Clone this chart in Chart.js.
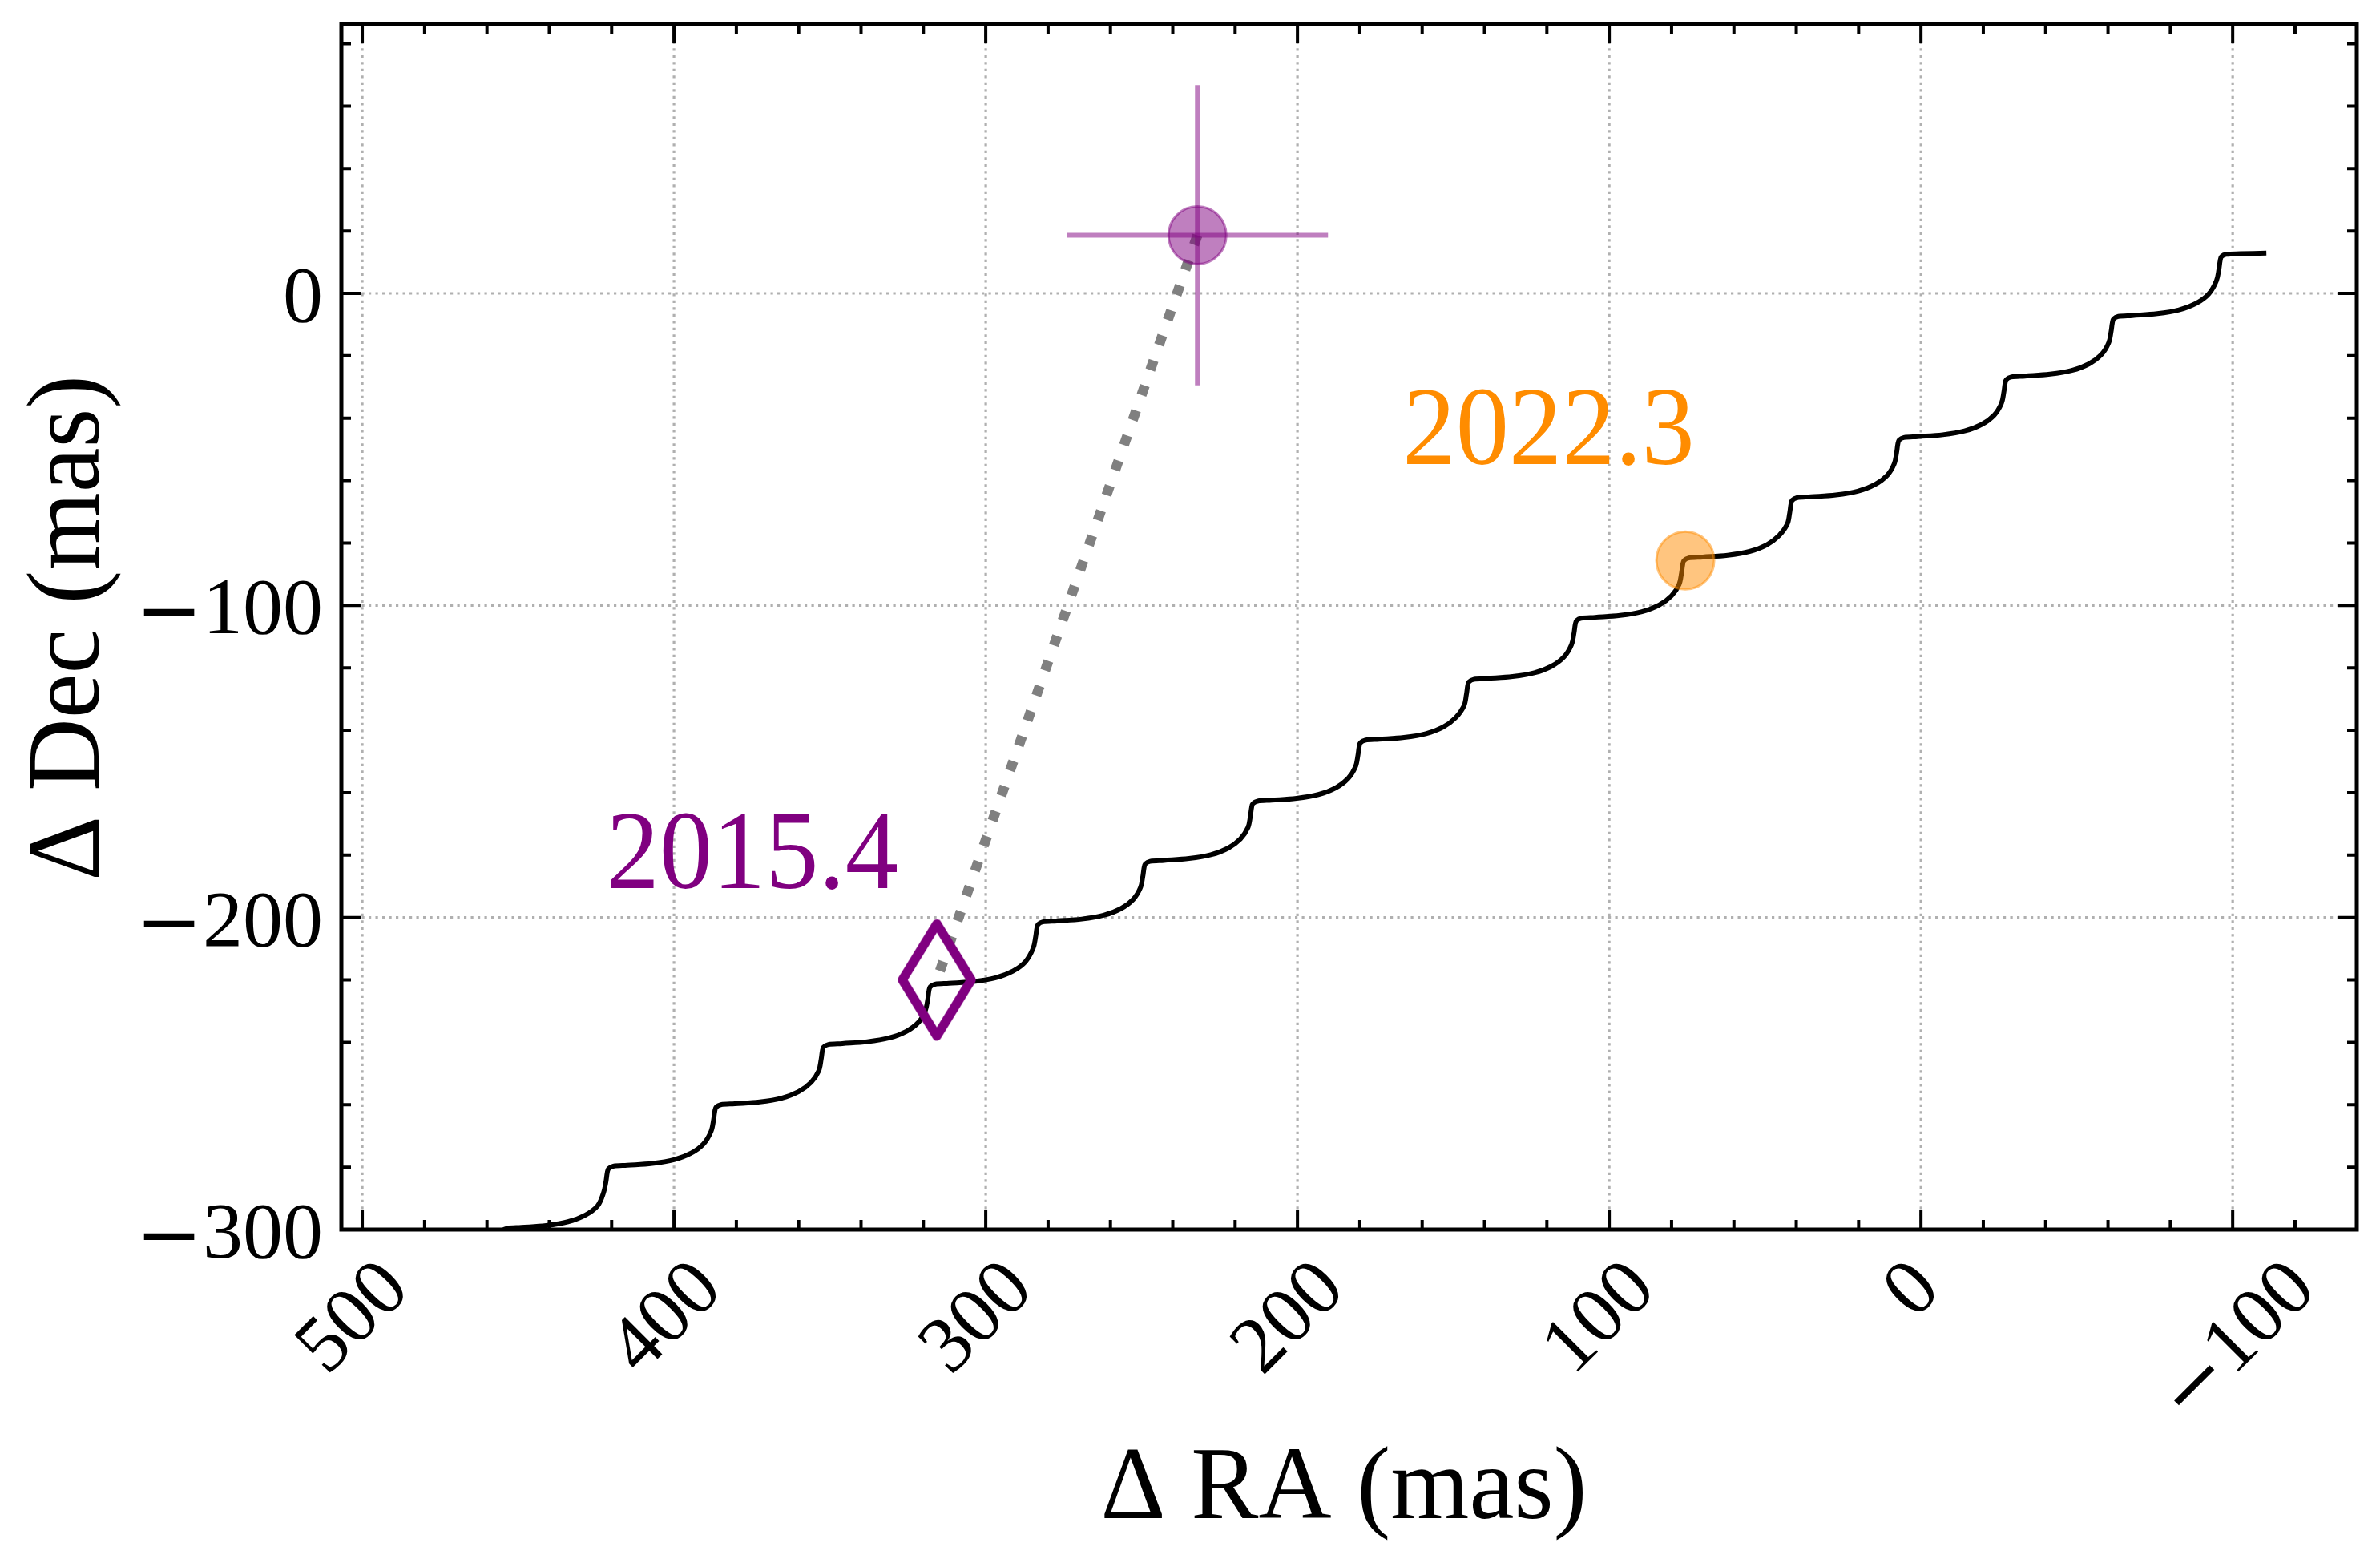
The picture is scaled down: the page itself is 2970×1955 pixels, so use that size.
<!DOCTYPE html>
<html>
<head>
<meta charset="utf-8">
<script src="https://cdn.jsdelivr.net/npm/chart.js@4.4.1/dist/chart.umd.min.js"></script>
<style>
html,body{margin:0;padding:0;background:#fff;overflow:hidden}
#wrap{width:2970px;height:1955px;position:relative}
canvas{display:block}
</style>
</head>
<body>
<div id="wrap"><canvas id="c" width="2970" height="1955"></canvas></div>
<script>
// ---------------- data ----------------
const trackRA = [
455.8,455.4,455.0,453.5,449.0,441.0,434.0,428.5,424.5,422.6,421.8,421.4,
421.0,419.5,415.0,407.0,400.0,394.5,390.5,388.1,387.3,386.9,
386.5,385.0,380.5,372.5,365.5,360.0,356.0,353.6,352.8,352.4,
352.0,350.5,346.0,338.0,331.0,325.5,321.5,319.4,318.6,318.2,
317.8,316.3,311.8,303.8,296.8,291.3,287.3,284.8,284.0,283.6,
283.2,281.7,277.2,269.2,262.2,256.7,252.7,250.4,249.6,249.2,
248.8,247.3,242.8,234.8,227.8,222.3,218.3,215.9,215.1,214.7,
214.3,212.8,208.3,200.3,193.3,187.8,183.8,181.4,180.6,180.2,
179.8,178.3,173.8,165.8,158.8,153.3,149.3,146.6,145.8,145.4,
145.0,143.5,139.0,131.0,124.0,118.5,114.5,112.1,111.3,110.9,
110.5,109.0,104.5,96.5,89.5,84.0,80.0,77.6,76.8,76.4,
76.0,74.5,70.0,62.0,55.0,49.5,45.5,42.9,42.1,41.7,
41.3,39.8,35.3,27.3,20.3,14.8,10.8,8.6,7.8,7.4,
7.0,5.5,1.0,-7.0,-14.0,-19.5,-23.5,-25.8,-26.6,-27.0,
-27.4,-28.9,-33.4,-41.4,-48.4,-53.9,-57.9,-60.2,-61.0,-61.4,
-61.8,-63.3,-67.8,-75.8,-82.8,-88.3,-92.3,-94.8,-95.6,-96.0,
-96.4,-97.9,-102.4,-110.8
];
const trackDec = [
-306.0,-302.0,-300.4,-299.6,-299.3,-298.7,-297.5,-295.4,-292.4,-288.2,-284.5,-281.7,
-280.5,-279.7,-279.4,-278.8,-277.6,-275.5,-272.5,-268.5,-264.8,-262.0,
-260.8,-260.0,-259.7,-259.1,-257.9,-255.8,-252.8,-249.2,-245.5,-242.7,
-241.5,-240.7,-240.4,-239.8,-238.6,-236.5,-233.5,-229.9,-226.2,-223.4,
-222.2,-221.4,-221.1,-220.5,-219.3,-217.2,-214.2,-209.9,-206.2,-203.4,
-202.2,-201.4,-201.1,-200.5,-199.3,-197.2,-194.2,-190.5,-186.8,-184.0,
-182.8,-182.0,-181.7,-181.1,-179.9,-177.8,-174.8,-171.2,-167.5,-164.7,
-163.5,-162.7,-162.4,-161.8,-160.6,-158.5,-155.5,-151.7,-148.0,-145.2,
-144.0,-143.2,-142.9,-142.3,-141.1,-139.0,-136.0,-132.2,-128.5,-125.7,
-124.5,-123.7,-123.4,-122.8,-121.6,-119.5,-116.5,-112.6,-108.9,-106.1,
-104.9,-104.1,-103.8,-103.2,-102.0,-99.9,-96.9,-93.3,-89.6,-86.8,
-85.6,-84.8,-84.5,-83.9,-82.7,-80.6,-77.6,-74.0,-70.3,-67.5,
-66.3,-65.5,-65.2,-64.6,-63.4,-61.3,-58.3,-54.7,-51.0,-48.2,
-47.0,-46.2,-45.9,-45.3,-44.1,-42.0,-39.0,-35.3,-31.6,-28.8,
-27.6,-26.8,-26.5,-25.9,-24.7,-22.6,-19.6,-15.9,-12.2,-9.4,
-8.2,-7.4,-7.1,-6.5,-5.3,-3.2,-0.2,4.1,7.8,10.6,
11.8,12.5,12.7,12.9
];
const epoch2015RA = [315.7];
const epoch2015Dec = [-220.0];
const epoch2022RA = [232.1];
const epoch2022Dec = [18.6];
const epoch2022ErrRA = [41.9];
const epoch2022ErrDec = [48.1];
const predictedRA = [75.6];
const predictedDec = [-85.6];
const epochLabels = ['2015.4', '2022.3'];
const xTickValues = [500, 400, 300, 200, 100, 0, -100];
const yTickValues = [0, -100, -200, -300];
const xTickLabels = ['500', '400', '300', '200', '100', '0', '\u2212100'];
const yTickLabels = ['0', '\u2212100', '\u2212200', '\u2212300'];
const xTitle = '\u0394 RA (mas)';
const yTitle = '\u0394 Dec (mas)';

// ---------------- layout / style ----------------
const X_MIN = -139.8, X_MAX = 506.7, Y_MIN = -300, Y_MAX = 86.3;
const MINOR_STEP = 20;
const SERIF = '"Liberation Serif", "Times New Roman", serif';
const MINUS_FONT = '"DejaVu Sans", sans-serif';
const PURPLE = '#800080', ORANGE = '#ff8c00';
const annotPos = [{ra: 420.3, dec: -190.6, w: 357, color: PURPLE}, {ra: 164.8, dec: -54.7, w: 354, color: ORANGE}];

function pieces(label, size) {
  if (label.charAt(0) === '\u2212') {
    return [{t: '\u2212', f: size + 'px ' + MINUS_FONT, dy: size * 0.045}, {t: label.slice(1), f: size + 'px ' + SERIF, dy: 0}];
  }
  return [{t: label, f: size + 'px ' + SERIF, dy: 0}];
}
function measurePieces(ctx, ps) {
  let x = 0, left = Infinity, right = -Infinity, asc = 0, desc = 0;
  const items = [];
  for (const p of ps) {
    ctx.font = p.f;
    const m = ctx.measureText(p.t);
    left = Math.min(left, x - m.actualBoundingBoxLeft);
    right = Math.max(right, x + m.actualBoundingBoxRight);
    if (p.t !== '\u2212') { asc = Math.max(asc, m.actualBoundingBoxAscent); desc = Math.max(desc, m.actualBoundingBoxDescent); }
    items.push({t: p.t, f: p.f, dy: p.dy, x: x});
    x += m.width;
  }
  return {items, left, right, asc, desc, w: right - left};
}
function drawPieces(ctx, M, ox, oy) {
  ctx.textAlign = 'left';
  ctx.textBaseline = 'alphabetic';
  for (const it of M.items) { ctx.font = it.f; ctx.fillText(it.t, ox + it.x, oy + it.dy); }
}

function makeDiamond() {
  const c = document.createElement('canvas');
  c.width = 120; c.height = 176;
  const g = c.getContext('2d');
  g.strokeStyle = PURPLE; g.lineWidth = 11.5; g.lineJoin = 'round';
  g.beginPath();
  g.moveTo(60, 88 - 70); g.lineTo(60 + 43, 88); g.lineTo(60, 88 + 70); g.lineTo(60 - 43, 88);
  g.closePath(); g.stroke();
  return c;
}

const decor = {
  id: 'decor',
  beforeDraw(chart) {
    const ctx = chart.ctx;
    ctx.save(); ctx.fillStyle = '#fff'; ctx.fillRect(0, 0, chart.width, chart.height); ctx.restore();
  },
  beforeDatasetsDraw(chart) {
    const {ctx, chartArea: a, scales: {x, y}} = chart;
    ctx.save();
    ctx.strokeStyle = '#b0b0b0'; ctx.lineWidth = 3.2; ctx.setLineDash([3.2, 5.3]);
    xTickValues.forEach(v => { const p = x.getPixelForValue(v); ctx.beginPath(); ctx.moveTo(p, a.bottom); ctx.lineTo(p, a.top); ctx.stroke(); });
    yTickValues.forEach(v => { const p = y.getPixelForValue(v); ctx.beginPath(); ctx.moveTo(a.left, p); ctx.lineTo(a.right, p); ctx.stroke(); });
    ctx.restore();
  },
  afterDatasetsDraw(chart) {
    const {ctx, chartArea: a, scales: {x, y}} = chart;
    ctx.save();
    ctx.strokeStyle = '#000'; ctx.lineWidth = 4;
    const MAJ = 24, MIN = 12;
    const xs = [], ys = [];
    for (let v = Math.ceil(X_MIN / MINOR_STEP) * MINOR_STEP; v <= X_MAX; v += MINOR_STEP) xs.push(v);
    for (let v = Math.ceil(Y_MIN / MINOR_STEP) * MINOR_STEP; v <= Y_MAX; v += MINOR_STEP) ys.push(v);
    xs.forEach(v => {
      const L = (v % 100 === 0) ? MAJ : MIN; const p = x.getPixelForValue(v);
      ctx.beginPath(); ctx.moveTo(p, a.bottom); ctx.lineTo(p, a.bottom - L); ctx.moveTo(p, a.top); ctx.lineTo(p, a.top + L); ctx.stroke();
    });
    ys.forEach(v => {
      const L = (v % 100 === 0) ? MAJ : MIN; const p = y.getPixelForValue(v);
      ctx.beginPath(); ctx.moveTo(a.left, p); ctx.lineTo(a.left + L, p); ctx.moveTo(a.right, p); ctx.lineTo(a.right - L, p); ctx.stroke();
    });
    ctx.lineWidth = 5;
    ctx.strokeRect(a.left, a.top, a.right - a.left, a.bottom - a.top);
    ctx.restore();
  },
  afterDraw(chart) {
    const {ctx, chartArea: a, scales: {x, y}} = chart;
    ctx.save();
    ctx.fillStyle = '#000';
    const K = Math.SQRT1_2;
    xTickValues.forEach((v, i) => {
      const M = measurePieces(ctx, pieces(xTickLabels[i], 100));
      const cx = x.getPixelForValue(v) + (xTickLabels[i].charAt(0) === '\u2212' ? 4 : -13);
      const top = a.bottom + 33;
      const xc = K * ((M.left - M.asc) + (M.right + M.desc)) / 2;
      const yt = -K * (M.right + M.asc);
      ctx.save(); ctx.translate(cx - xc, top - yt); ctx.rotate(-Math.PI / 4); drawPieces(ctx, M, 0, 0); ctx.restore();
    });
    yTickValues.forEach((v, i) => {
      const M = measurePieces(ctx, pieces(yTickLabels[i], 100));
      const py = y.getPixelForValue(v) + 3;
      drawPieces(ctx, M, a.left - 26 - M.right, py - (M.desc - M.asc) / 2);
    });
    {
      const M = measurePieces(ctx, [{t: xTitle, f: '130px ' + SERIF, dy: 0}]);
      const sx = 598 / M.w;
      ctx.save(); ctx.translate((a.left + a.right) / 2 - 7, 1894); ctx.scale(sx, 1);
      drawPieces(ctx, M, -(M.left + M.right) / 2, 0); ctx.restore();
    }
    {
      const M = measurePieces(ctx, [{t: yTitle, f: '130px ' + SERIF, dy: 0}]);
      const sx = 622 / M.w;
      ctx.save(); ctx.translate(123, (a.top + a.bottom) / 2 + 2); ctx.rotate(-Math.PI / 2); ctx.scale(sx, 1);
      drawPieces(ctx, M, -(M.left + M.right) / 2, 0); ctx.restore();
    }
    epochLabels.forEach((lab, i) => {
      const P = annotPos[i];
      const M = measurePieces(ctx, [{t: lab, f: '140px ' + SERIF, dy: 0}]);
      const sx = P.w / M.w;
      ctx.save(); ctx.fillStyle = P.color;
      ctx.translate(x.getPixelForValue(P.ra), y.getPixelForValue(P.dec)); ctx.scale(sx, 1);
      drawPieces(ctx, M, -M.left, 0); ctx.restore();
    });
    ctx.restore();
  }
};

function build() {
  const trackData = trackRA.map((v, i) => ({x: v, y: trackDec[i]}));
  const p22 = {x: epoch2022RA[0], y: epoch2022Dec[0]};
  const p15 = {x: epoch2015RA[0], y: epoch2015Dec[0]};
  const purpleA = 'rgba(128,0,128,0.5)';
  new Chart(document.getElementById('c'), {
    type: 'scatter',
    data: {
      datasets: [
        {label: 'track', data: trackData, showLine: true, borderColor: '#000', borderWidth: 6,
         pointRadius: 0, tension: 0.35, borderJoinStyle: 'round', borderCapStyle: 'butt', fill: false, order: 6},
        {label: 'link', data: [p22, p15], showLine: true, borderColor: '#808080', borderWidth: 12.5,
         borderDash: [12.5, 20.6], borderCapStyle: 'butt', pointRadius: 0, fill: false, order: 5},
        {label: epochLabels[0], data: [p15], pointStyle: makeDiamond(), pointRadius: 40, order: 4},
        {label: 'errRA', data: [{x: epoch2022RA[0] - epoch2022ErrRA[0], y: epoch2022Dec[0]}, {x: epoch2022RA[0] + epoch2022ErrRA[0], y: epoch2022Dec[0]}],
         showLine: true, borderColor: purpleA, borderWidth: 6, pointRadius: 0, fill: false, order: 3},
        {label: 'errDec', data: [{x: epoch2022RA[0], y: epoch2022Dec[0] - epoch2022ErrDec[0]}, {x: epoch2022RA[0], y: epoch2022Dec[0] + epoch2022ErrDec[0]}],
         showLine: true, borderColor: purpleA, borderWidth: 6, pointRadius: 0, fill: false, order: 3},
        {label: epochLabels[1], data: [p22], pointRadius: 36, pointBorderWidth: 3,
         pointBackgroundColor: purpleA, pointBorderColor: purpleA, order: 1},
        {label: 'predicted', data: predictedRA.map((v, i) => ({x: v, y: predictedDec[i]})), pointRadius: 36, pointBorderWidth: 3,
         pointBackgroundColor: 'rgba(255,140,0,0.5)', pointBorderColor: 'rgba(255,140,0,0.5)', order: 2}
      ]
    },
    options: {
      responsive: false, animation: false, devicePixelRatio: 1,
      layout: {autoPadding: false, padding: {left: 426, top: 30, right: 29, bottom: 421}},
      scales: {
        x: {type: 'linear', min: X_MIN, max: X_MAX, reverse: true, display: false},
        y: {type: 'linear', min: Y_MIN, max: Y_MAX, display: false}
      },
      plugins: {legend: {display: false}, tooltip: {enabled: false}},
      events: []
    },
    plugins: [decor]
  });
}
const fontLoads = [document.fonts.load('100px "Liberation Serif"'), document.fonts.load('100px "DejaVu Sans"')];
Promise.all(fontLoads).then(build, build);
</script>
</body>
</html>
